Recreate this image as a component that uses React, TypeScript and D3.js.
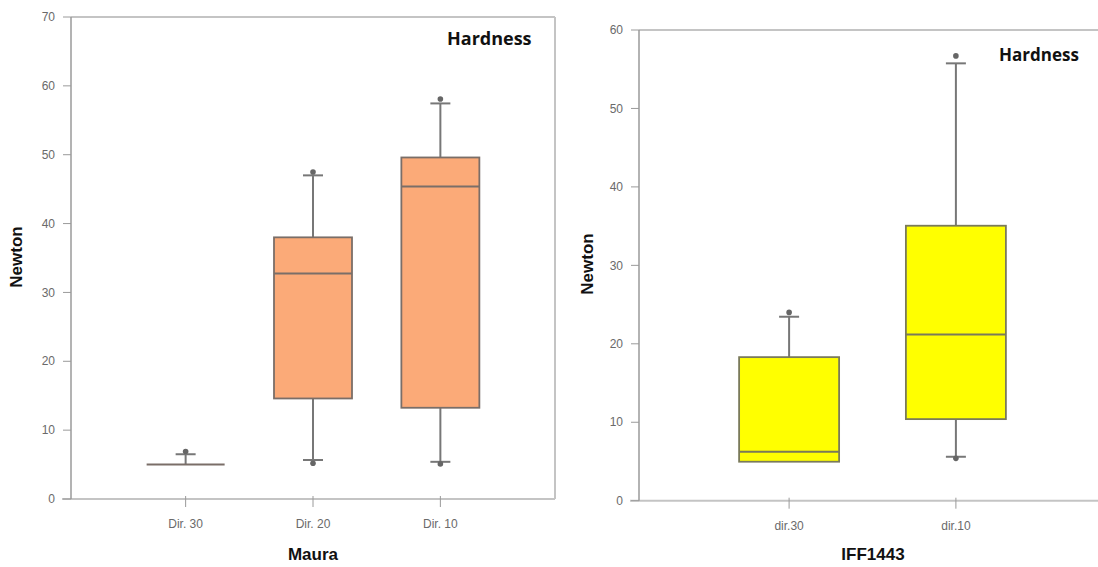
import React from "react";
import * as d3 from "d3";

// ---- Left panel (Maura) ----
const leftCategories = ["Dir. 30", "Dir. 20", "Dir. 10"];
const leftQ1 = [5, 14.6, 13.25];
const leftMedian = [5, 32.75, 45.4];
const leftQ3 = [5, 38, 49.6];
const leftWhiskerLow = [5, 5.66, 5.4];
const leftWhiskerHigh = [6.5, 47.0, 57.45];
const leftDotHigh = [6.9, 47.5, 58.1];
const leftDotLow: (number | null)[] = [null, 5.2, 5.1];
const leftTicks = [0, 10, 20, 30, 40, 50, 60, 70];

// ---- Right panel (IFF1443) ----
const rightCategories = ["dir.30", "dir.10"];
const rightQ1 = [4.97, 10.4];
const rightMedian = [6.25, 21.2];
const rightQ3 = [18.3, 35.05];
const rightWhiskerLow = [4.97, 5.6];
const rightWhiskerHigh = [23.45, 55.75];
const rightDotHigh = [24.0, 56.7];
const rightDotLow: (number | null)[] = [null, 5.4];
const rightTicks = [0, 10, 20, 30, 40, 50, 60];

type PanelProps = {
  categories: string[];
  q1: number[];
  median: number[];
  q3: number[];
  wLow: number[];
  wHigh: number[];
  dHigh: number[];
  dLow: (number | null)[];
  ticks: number[];
  yMax: number;
  x0: number;
  x1: number;
  yTop: number;
  yBottom: number;
  boxWidth: number;
  fill: string;
  boxStroke: string;
  xTitle: string;
  xTitleX: number;
  yTitleX: number;
  yTitleY: number;
  hardX: number;
  hardY: number;
  hardSize: number;
  rightBorder: boolean;
  labelX: number;
};

function Panel(p: PanelProps) {
  const x = d3.scalePoint<string>().domain(p.categories).range([p.x0, p.x1]).padding(0.9);
  const y = d3.scaleLinear().domain([0, p.yMax]).range([p.yBottom, p.yTop]);
  const frame = "#c4c4c4";
  const axis = "#9a9a9a";
  const whisk = "#777";
  const tickFont = "'Liberation Sans', Arial, sans-serif";
  return (
    <g>
      {/* frame */}
      <line x1={p.x0} x2={p.x1} y1={y(p.yMax)} y2={y(p.yMax)} stroke={frame} strokeWidth={2} />
      {p.rightBorder && (
        <line x1={p.x1} x2={p.x1} y1={y(p.yMax)} y2={y(0)} stroke={frame} strokeWidth={2} />
      )}
      <line x1={p.x0 - 9} x2={p.x1} y1={y(0)} y2={y(0)} stroke={frame} strokeWidth={2} />
      <line x1={p.x0} x2={p.x0} y1={y(p.yMax)} y2={y(0)} stroke={axis} strokeWidth={1.5} />
      {/* y ticks */}
      {p.ticks.map((t) => (
        <g key={t}>
          <line x1={p.x0 - 8} x2={p.x0} y1={y(t)} y2={y(t)} stroke={axis} strokeWidth={1} />
          <text
            x={p.labelX}
            y={y(t)}
            dy="0.35em"
            textAnchor="end"
            fontFamily={tickFont}
            fontSize={12}
            fill="#6a6a6a"
          >
            {t}
          </text>
        </g>
      ))}
      {/* x ticks */}
      {p.categories.map((c) => (
        <g key={c}>
          <line x1={x(c)!} x2={x(c)!} y1={y(0) - 3} y2={y(0) + 8} stroke={axis} strokeWidth={1} />
          <text
            x={x(c)!}
            y={y(0) + 29}
            textAnchor="middle"
            fontFamily={tickFont}
            fontSize={12}
            fill="#6a6a6a"
          >
            {c}
          </text>
        </g>
      ))}
      {/* boxes */}
      {p.categories.map((c, i) => {
        const cx = x(c)!;
        const hw = p.boxWidth / 2;
        return (
          <g key={"b" + c}>
            <line x1={cx} x2={cx} y1={y(p.q3[i])} y2={y(p.wHigh[i])} stroke={whisk} strokeWidth={2} />
            <line x1={cx} x2={cx} y1={y(p.q1[i])} y2={y(p.wLow[i])} stroke={whisk} strokeWidth={2} />
            <line x1={cx - 10} x2={cx + 10} y1={y(p.wHigh[i])} y2={y(p.wHigh[i])} stroke={whisk} strokeWidth={2} />
            {p.wLow[i] < p.q1[i] - 0.05 && (
              <line x1={cx - 10} x2={cx + 10} y1={y(p.wLow[i])} y2={y(p.wLow[i])} stroke={whisk} strokeWidth={2} />
            )}
            <circle cx={cx} cy={y(p.dHigh[i])} r={2.8} fill="#666" />
            {p.dLow[i] !== null && <circle cx={cx} cy={y(p.dLow[i] as number)} r={2.8} fill="#666" />}
            {p.q3[i] > p.q1[i] && (
              <rect
                x={cx - hw}
                y={y(p.q3[i])}
                width={p.boxWidth}
                height={y(p.q1[i]) - y(p.q3[i])}
                fill={p.fill}
                stroke={p.boxStroke}
                strokeWidth={1.8}
              />
            )}
            <line
              x1={cx - hw}
              x2={cx + hw}
              y1={y(p.median[i])}
              y2={y(p.median[i])}
              stroke={p.boxStroke}
              strokeWidth={2}
            />
          </g>
        );
      })}
      {/* titles */}
      <text
        x={p.hardX}
        y={p.hardY}
        fontFamily="'Open Sans', sans-serif"
        fontWeight="bold"
        fontSize={p.hardSize}
        fill="#111"
      >
        Hardness
      </text>
      <text
        x={p.xTitleX}
        y={560}
        textAnchor="middle"
        fontFamily="'Liberation Sans', Arial, sans-serif"
        fontWeight="bold"
        fontSize={17}
        fill="#111"
      >
        {p.xTitle}
      </text>
      <text
        transform={`translate(${p.yTitleX},${p.yTitleY}) rotate(-90)`}
        textAnchor="middle"
        fontFamily="'Liberation Sans', Arial, sans-serif"
        fontWeight="bold"
        fontSize={17}
        fill="#111"
      >
        Newton
      </text>
    </g>
  );
}

export default function App() {
  return (
    <svg
      width={1098}
      height={567}
      style={{ position: "absolute", left: 0, top: 0, display: "block", background: "#fff" }}
    >
      <rect x={0} y={0} width={1098} height={567} fill="#fff" />
      <Panel
        categories={leftCategories}
        q1={leftQ1}
        median={leftMedian}
        q3={leftQ3}
        wLow={leftWhiskerLow}
        wHigh={leftWhiskerHigh}
        dHigh={leftDotHigh}
        dLow={leftDotLow}
        ticks={leftTicks}
        yMax={70}
        x0={71}
        x1={555}
        yTop={17}
        yBottom={499}
        boxWidth={78}
        fill="#FBAA78"
        boxStroke="#7a6e68"
        xTitle="Maura"
        xTitleX={313}
        yTitleX={22}
        yTitleY={257}
        hardX={447}
        hardY={45}
        hardSize={18}
        rightBorder={true}
        labelX={55}
      />
      <Panel
        categories={rightCategories}
        q1={rightQ1}
        median={rightMedian}
        q3={rightQ3}
        wLow={rightWhiskerLow}
        wHigh={rightWhiskerHigh}
        dHigh={rightDotHigh}
        dLow={rightDotLow}
        ticks={rightTicks}
        yMax={60}
        x0={639}
        x1={1106}
        yTop={30}
        yBottom={500.7}
        boxWidth={100}
        fill="#FFFF00"
        boxStroke="#7a7a5a"
        xTitle="IFF1443"
        xTitleX={873}
        yTitleX={593}
        yTitleY={264}
        hardX={999}
        hardY={61}
        hardSize={17}
        rightBorder={false}
        labelX={623}
      />
    </svg>
  );
}
